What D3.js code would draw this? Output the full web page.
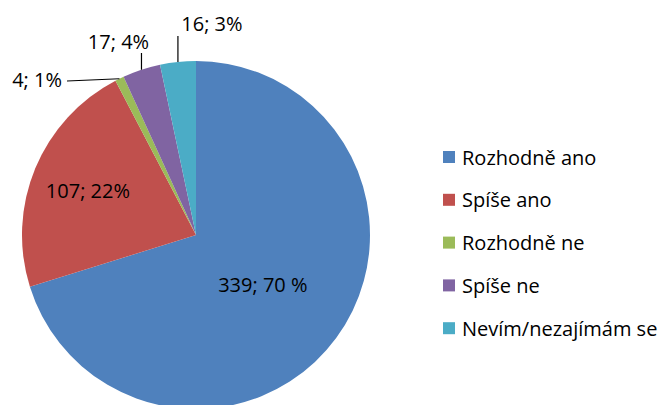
<!DOCTYPE html>
<html><head><meta charset="utf-8">
<script src="https://cdn.jsdelivr.net/npm/d3@7"></script>
<style>body{margin:0;background:#fff;}svg{display:block;font-family:"Open Sans",sans-serif;}</style>
</head><body>
<svg id="c" width="664" height="405"></svg>
<script>
const categories = ["Rozhodně ano","Spíše ano","Rozhodně ne","Spíše ne","Nevím/nezajímám se"];
const values = [339,107,4,17,16];
const labels = ["339; 70 %","107; 22%","4; 1%","17; 4%","16; 3%"];
const colors = ["#4F81BD","#C0504D","#9BBB59","#8064A2","#4BACC6"];

const svg = d3.select("#c");
const cx = 196, cy = 235, R = 174;
const g = svg.append("g").attr("transform",`translate(${cx},${cy})`);
const pie = d3.pie().sort(null).value(d=>d);
const arcs = pie(values);
const arc = d3.arc().innerRadius(0).outerRadius(R);
g.selectAll("path").data(arcs).join("path").attr("d",arc).attr("fill",(d,i)=>colors[i]);

const fs = 20;
const pt = (a,r)=>[r*Math.sin(a), -r*Math.cos(a)];
const mid = d=>(d.startAngle+d.endAngle)/2;
// inside labels
const inR = [83, 117];
[0,1].forEach(i=>{
  const [x,y] = pt(mid(arcs[i]), inR[i]);
  g.append("text").attr("x",x).attr("y",y).attr("text-anchor","middle").attr("dominant-baseline","central")
   .attr("font-size",fs).attr("fill","#000").text(labels[i]);
});
// outside labels with leader lines
const line = (pts)=>g.append("polyline").attr("points",pts.map(p=>p.join(",")).join(" "))
  .attr("fill","none").attr("stroke","#000").attr("stroke-width",1.2);
{ // green
  const p = pt(mid(arcs[2]),R);
  line([p,[67-cx,81-cy]]);
  g.append("text").attr("x",62-cx).attr("y",79-cy).attr("text-anchor","end").attr("dominant-baseline","central")
   .attr("font-size",fs).text(labels[2]);
}
{ // purple
  const p = pt(mid(arcs[3]),R);
  line([p,[p[0],53-cy]]);
  g.append("text").attr("x",p[0]-23).attr("y",41-cy).attr("text-anchor","middle").attr("dominant-baseline","central")
   .attr("font-size",fs).text(labels[3]);
}
{ // cyan
  const p = pt(mid(arcs[4]),R);
  line([p,[p[0],36-cy]]);
  g.append("text").attr("x",p[0]+34).attr("y",23-cy).attr("text-anchor","middle").attr("dominant-baseline","central")
   .attr("font-size",fs).text(labels[4]);
}
// legend
const lg = svg.append("g");
const rows = lg.selectAll("g").data(categories).join("g").attr("transform",(d,i)=>`translate(443,${157+i*42.8})`);
rows.append("rect").attr("x",0).attr("y",-6).attr("width",12).attr("height",12).attr("fill",(d,i)=>colors[i]);
rows.append("text").attr("x",19).attr("y",0).attr("dominant-baseline","central").attr("font-size",fs).text(d=>d);
</script>
</body></html>
